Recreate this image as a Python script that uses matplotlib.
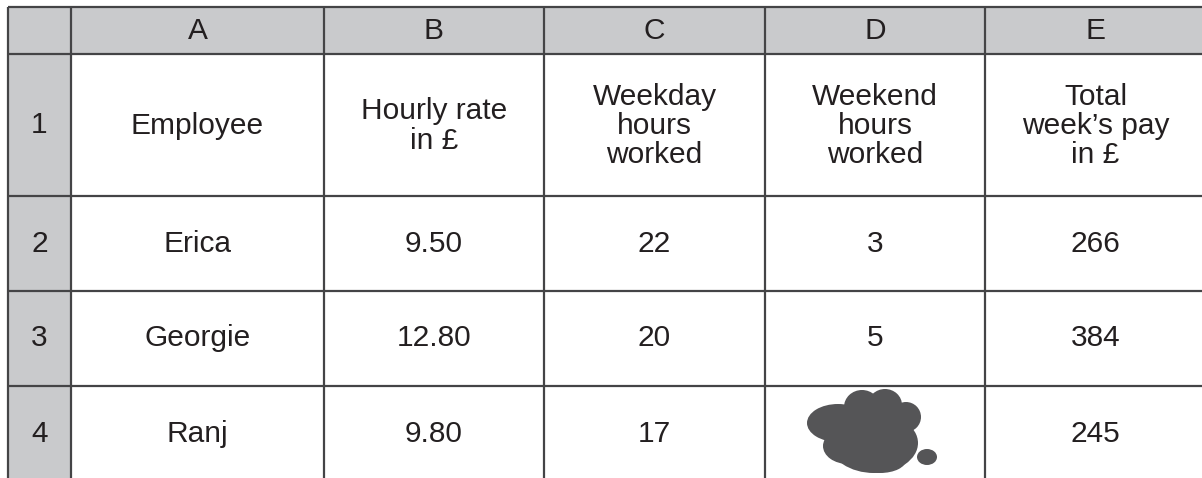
import matplotlib
matplotlib.use("Agg")
import matplotlib.pyplot as plt
from matplotlib.patches import Rectangle, Ellipse

plt.rcParams['font.family'] = ['Liberation Sans', 'DejaVu Sans']

# table content
col_letters = ["A", "B", "C", "D", "E"]
row_numbers = ["1", "2", "3", "4"]
headings = ["Employee", "Hourly rate\nin £", "Weekday\nhours\nworked",
            "Weekend\nhours\nworked", "Total\nweek\u2019s pay\nin £"]
employees = ["Erica", "Georgie", "Ranj"]
hourly_rate = ["9.50", "12.80", "9.80"]
weekday_hours = ["22", "20", "17"]
weekend_hours = ["3", "5", None]   # Ranj's value is hidden by an ink blot
total_pay = ["266", "384", "245"]

# grid layout in pixels
col_edges = [8, 71, 324, 544, 765, 985, 1206]
row_edges = [7, 54, 196, 291, 386, 482]

W, H = 1202, 478
fig = plt.figure(figsize=(W / 100, H / 100), dpi=100)
ax = fig.add_axes([0, 0, 1, 1])
ax.set_xlim(0, W)
ax.set_ylim(H, 0)
ax.axis("off")

grey = "#c9cacc"
line_c = "#444446"
text_c = "#231f20"
fs = 21.5

# shaded headers
ax.add_patch(Rectangle((col_edges[0], row_edges[0]), col_edges[-1] - col_edges[0],
                       row_edges[1] - row_edges[0], color=grey, lw=0))
ax.add_patch(Rectangle((col_edges[0], row_edges[1]), col_edges[1] - col_edges[0],
                       row_edges[-1] - row_edges[1], color=grey, lw=0))

# grid lines (bottom edge is cut off)
for x in col_edges:
    ax.plot([x, x], [row_edges[0], row_edges[-1]], color=line_c, lw=1.6, solid_capstyle="butt")
for y in row_edges[:-1]:
    ax.plot([col_edges[0], col_edges[-1]], [y, y], color=line_c, lw=1.6, solid_capstyle="butt")

def cx(i):
    return (col_edges[i] + col_edges[i + 1]) / 2

def cy(j):
    return (row_edges[j] + row_edges[j + 1]) / 2

def put(i, j, s, dy=0):
    ax.text(cx(i), cy(j) + dy, s, ha="center", va="center", fontsize=fs,
            color=text_c, linespacing=1.06, multialignment="center")

for i, s in enumerate(col_letters):
    put(i + 1, 0, s)
for j, s in enumerate(row_numbers):
    put(0, j + 1, s)
for i, s in enumerate(headings):
    put(i + 1, 1, s, dy=1)

columns = [employees, hourly_rate, weekday_hours, weekend_hours, total_pay]
for i, col in enumerate(columns):
    for j, v in enumerate(col):
        if v is not None:
            put(i + 1, j + 2, v)

# ink blot over Ranj's weekend hours
blot = "#555557"
blobs = [
    ((838, 423), 62, 38),
    ((862, 407), 36, 34),
    ((885, 405), 34, 32),
    ((906, 417), 30, 30),
    ((874, 443), 88, 60),
    ((848, 446), 50, 36),
    ((880, 460), 52, 26),
]
for (x, y), w, h in blobs:
    ax.add_patch(Ellipse((x, y), w, h, color=blot, lw=0))
ax.add_patch(Ellipse((927, 457), 20, 16, color=blot, lw=0))

fig.savefig("out.png", dpi=100)
